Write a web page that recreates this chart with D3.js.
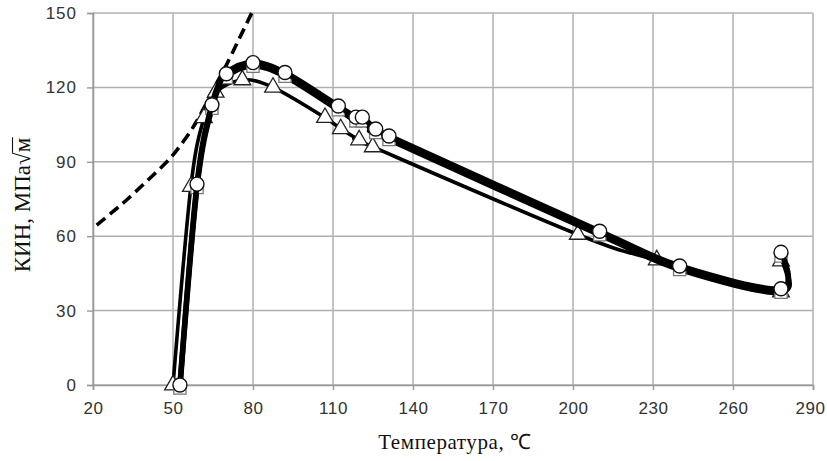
<!DOCTYPE html>
<html>
  <body style="margin:0; background:#fff">
    <script src="https://d3js.org/d3.v7.min.js"></script>
    <script type="text/javascript">

      // axis ticks
      const tempTicks = [20, 50, 80, 110, 140, 170, 200, 230, 260, 290];
      const kinTicks = [0, 30, 60, 90, 120, 150];

      // circle series (thick line)
      const circleTemp = [52.6, 59, 64.6, 70, 80, 92, 112, 118.6, 121, 126, 131, 210, 240, 278, 278];
      const circleKin = [0, 81, 113, 125.5, 130, 126, 112.5, 108, 108, 103.2, 100.4, 62, 48, 38.8, 53.5];
      // square series, hidden just under the circles
      const squareKin = [-1.2, 79.6, 111.6, 124, 128.5, 124.5, 111, 106.5, 106.5, 101.8, 99, 60.6, 46.6, 37.4, 52];
      // triangle series (thin line)
      const triangleTemp = [50, 56.7, 61.6, 66, 76, 87.5, 107, 112.9, 119.8, 124.9, 201.8, 231.4, 278, 278];
      const triangleKin = [0, 80, 107.7, 118, 123, 120, 107.8, 103.3, 98.8, 96, 60.7, 50.4, 37.5, 50];
      // dashed curve
      const dashTemp = [21.4, 27, 32.6, 40, 47.7, 52, 57, 61, 65, 70, 75, 79.5];
      const dashKin = [64.5, 69.5, 74.6, 82, 90, 95.5, 103, 110.5, 119, 129, 140, 150];

      const width = 827;
      const height = 461;
      const margin = {top: 13, right: 14, bottom: 76, left: 93};

      const svg = d3.select('body')
        .append('svg')
        .attr('width', width)
        .attr('height', height);

      const x = d3.scaleLinear()
        .domain([20, 290])
        .range([margin.left, width - margin.right]);

      const y = d3.scaleLinear()
        .domain([0, 150])
        .range([height - margin.bottom, margin.top]);

      // grid
      svg.append('g')
        .selectAll('line')
        .data(tempTicks)
        .join('line')
        .attr('x1', (d) => x(d))
        .attr('x2', (d) => x(d))
        .attr('y1', y(0))
        .attr('y2', y(150))
        .attr('stroke', '#b0b0b0')
        .attr('stroke-width', 1.5);

      svg.append('g')
        .selectAll('line')
        .data(kinTicks)
        .join('line')
        .attr('x1', x(20))
        .attr('x2', x(290))
        .attr('y1', (d) => y(d))
        .attr('y2', (d) => y(d))
        .attr('stroke', '#b0b0b0')
        .attr('stroke-width', 1.5);

      // axes
      const axisBottom = d3.axisBottom(x)
        .tickValues(tempTicks)
        .tickSize(5)
        .tickPadding(12);
      const gx = svg.append('g')
        .attr('transform', `translate(0, ${y(0)})`)
        .call(axisBottom);

      const axisLeft = d3.axisLeft(y)
        .tickValues(kinTicks)
        .tickSize(6)
        .tickPadding(10);
      const gy = svg.append('g')
        .attr('transform', `translate(${x(20)}, 0)`)
        .call(axisLeft);

      [gx, gy].forEach((g) => {
        g.select('.domain').attr('stroke', '#999').attr('stroke-width', 1.6);
        g.selectAll('.tick line').attr('stroke', '#999').attr('stroke-width', 1.4);
        g.selectAll('.tick text')
          .attr('fill', '#333')
          .style('font-family', '"Liberation Sans", Arial, sans-serif')
          .style('font-size', '17px');
      });
      gy.selectAll('.tick text').style('letter-spacing', '1px');
      gx.selectAll('.tick text').style('letter-spacing', '0.6px');
      // keep the last label inside the picture
      gx.selectAll('.tick text').filter((d) => d === 290).attr('dx', -3);

      const smooth = d3.line()
        .x((d) => x(d[0]))
        .y((d) => y(d[1]))
        .curve(d3.curveCardinal.tension(0));

      // dashed curve
      svg.append('path')
        .attr('d', smooth(d3.zip(dashTemp, dashKin)))
        .attr('fill', 'none')
        .attr('stroke', '#000')
        .attr('stroke-width', 3.6)
        .attr('stroke-dasharray', '11,6');

      // triangle series
      const triData = d3.zip(triangleTemp, triangleKin);
      svg.append('path')
        .attr('d', smooth(triData))
        .attr('fill', 'none')
        .attr('stroke', '#000')
        .attr('stroke-width', 3.6);

      svg.append('g')
        .selectAll('path')
        .data(triData)
        .join('path')
        .attr('transform', (d) => `translate(${x(d[0])}, ${y(d[1])})`)
        .attr('d', d3.symbol(d3.symbolTriangle, 120))
        .attr('fill', '#fff')
        .attr('stroke', '#222')
        .attr('stroke-width', 1.3);

      // square series
      const sqData = d3.zip(circleTemp, squareKin);
      svg.append('path')
        .attr('d', smooth(sqData))
        .attr('fill', 'none')
        .attr('stroke', '#000')
        .attr('stroke-width', 5.5);

      svg.append('g')
        .selectAll('path')
        .data(sqData)
        .join('path')
        .attr('transform', (d) => `translate(${x(d[0])}, ${y(d[1])})`)
        .attr('d', d3.symbol(d3.symbolSquare, 150))
        .attr('fill', '#fff')
        .attr('stroke', '#777')
        .attr('stroke-width', 1.3);

      // circle series
      const circData = d3.zip(circleTemp, circleKin);
      svg.append('path')
        .attr('d', smooth(circData))
        .attr('fill', 'none')
        .attr('stroke', '#000')
        .attr('stroke-width', 5.5);

      svg.append('g')
        .selectAll('circle')
        .data(circData)
        .join('circle')
        .attr('cx', (d) => x(d[0]))
        .attr('cy', (d) => y(d[1]))
        .attr('r', 7)
        .attr('fill', '#fff')
        .attr('stroke', '#111')
        .attr('stroke-width', 1.4);

      // axis titles
      svg.append('text')
        .attr('x', (x(20) + x(290)) / 2 + 2)
        .attr('y', 449)
        .attr('text-anchor', 'middle')
        .style('font-family', '"Liberation Serif", "Times New Roman", serif')
        .style('font-size', '21px')
        .style('letter-spacing', '0.6px')
        .attr('fill', '#111')
        .text('Температура, ℃');

      const yTitle = svg.append('text')
        .attr('transform', 'translate(30, 205) rotate(-90)')
        .attr('text-anchor', 'middle')
        .style('font-family', '"Liberation Serif", "Times New Roman", serif')
        .style('font-size', '23px')
        .attr('fill', '#111')
        .text('КИН, МПа√м');

      // overline of the root sign
      const label = 'КИН, МПа√м';
      const node = yTitle.node();
      const iRoot = label.indexOf('√');
      const rootEnd = node.getEndPositionOfChar(iRoot);
      const lastEnd = node.getEndPositionOfChar(label.length - 1);
      svg.append('line')
        .attr('transform', 'translate(30, 205) rotate(-90)')
        .attr('x1', rootEnd.x - 0.5)
        .attr('x2', lastEnd.x + 0.5)
        .attr('y1', -17.5)
        .attr('y2', -17.5)
        .attr('stroke', '#111')
        .attr('stroke-width', 1.1);

    </script>
  </body>
</html>
